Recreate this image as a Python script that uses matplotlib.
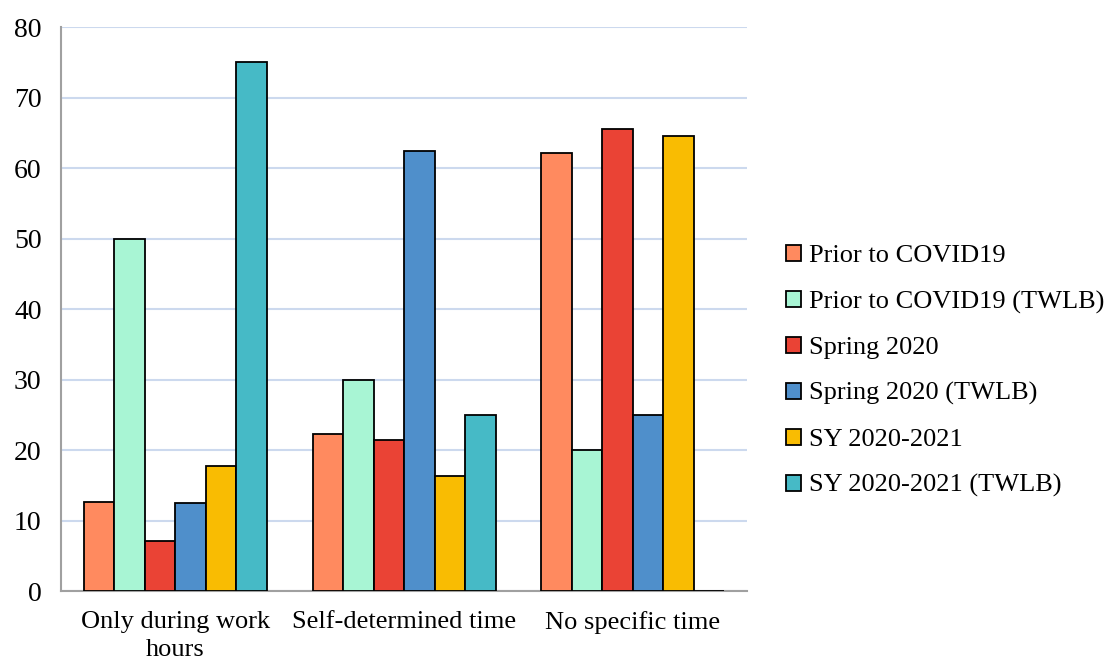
import numpy as np
import matplotlib.pyplot as plt

plt.rcParams['font.family'] = ['Liberation Serif', 'DejaVu Serif']

categories = ["Only during work\nhours", "Self-determined time", "No specific time"]
series = ["Prior to COVID19", "Prior to COVID19 (TWLB)", "Spring 2020",
          "Spring 2020 (TWLB)", "SY 2020-2021", "SY 2020-2021 (TWLB)"]
prior = [12.6, 22.3, 62.2]
prior_twlb = [50, 30, 20]
spring = [7.1, 21.4, 65.5]
spring_twlb = [12.5, 62.5, 25]
sy = [17.7, 16.4, 64.6]
sy_twlb = [75, 25, 0]
colors = ["#FF8A5F", "#A8F5D4", "#EA4335", "#4F8FCB", "#F9BC02", "#46BAC6"]

values = [prior, prior_twlb, spring, spring_twlb, sy, sy_twlb]

fig = plt.figure(figsize=(11.07, 6.62), dpi=100)
ax = fig.add_axes([0.0551, 0.107, 0.6199, 0.852])

x = np.arange(len(categories))
w = 0.8 / len(series)
for i, (name, vals) in enumerate(zip(series, values)):
    ax.bar(x - 0.4 + w * (i + 0.5), vals, w, color=colors[i], edgecolor='black',
           linewidth=1.3, label=name, zorder=3)

ax.set_xlim(-0.5, 2.5)
ax.set_ylim(0, 80)
ax.set_yticks(range(0, 81, 10))
ax.set_xticks(x)
ax.set_xticklabels(categories, fontsize=19, linespacing=1.35)
ax.tick_params(axis='y', labelsize=20, length=0, pad=14)
ax.tick_params(axis='x', length=0, pad=14)
ax.grid(axis='y', color='#CCD9EE', linewidth=1.5, zorder=0)
for s in ['top', 'right']:
    ax.spines[s].set_visible(False)
ax.spines['left'].set_color('#A0A0A0')
ax.spines['bottom'].set_color('#A0A0A0')
ax.spines['left'].set_linewidth(1.5)
ax.spines['bottom'].set_linewidth(1.5)

ax.legend(loc='center left', bbox_to_anchor=(1.022, 0.39), frameon=False, fontsize=19,
          handlelength=0.55, handleheight=0.55, handletextpad=0.3, labelspacing=0.88)

plt.savefig('out.png', dpi=100)
